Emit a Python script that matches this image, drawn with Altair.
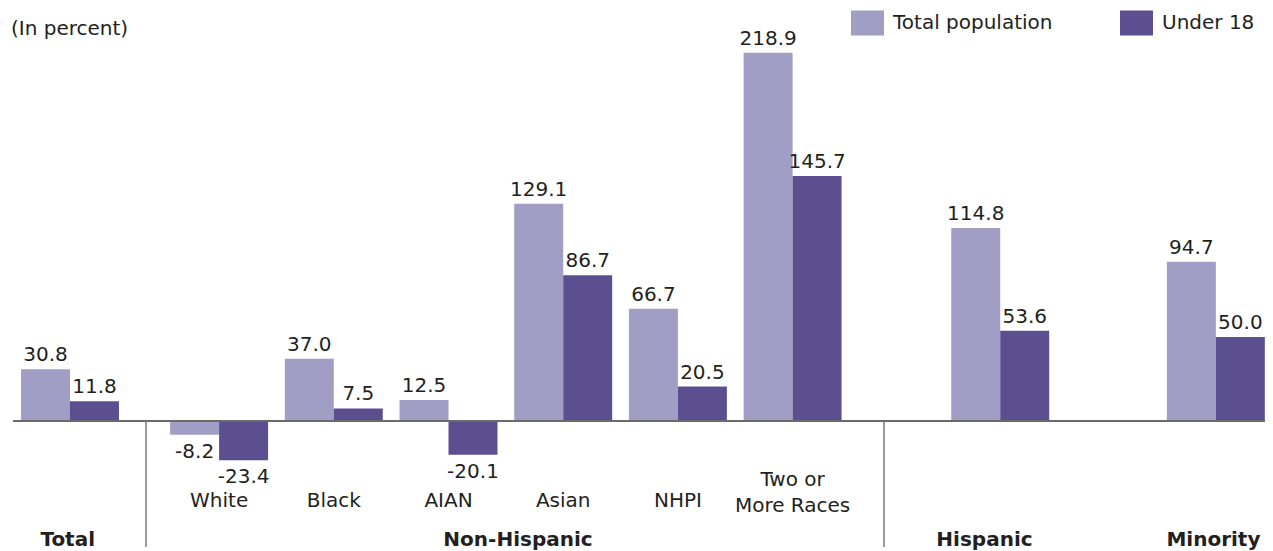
import altair as alt
import pandas as pd

# ---------------- data ----------------
categories = ["Total", "White", "Black", "AIAN", "Asian", "NHPI",
              "Two or More Races", "Hispanic", "Minority"]
total_population = [30.8, -8.2, 37.0, 12.5, 129.1, 66.7, 218.9, 114.8, 94.7]
under_18 = [11.8, -23.4, 7.5, -20.1, 86.7, 20.5, 145.7, 53.6, 50.0]
series = ["Total population", "Under 18"]
axis_labels = ["", "White", "Black", "AIAN", "Asian", "NHPI",
               "Two or\nMore Races", "", ""]
group_names = ["Total", "Non-Hispanic", "Hispanic", "Minority"]
subtitle = ["(In percent)"]

# ---------------- layout / style ----------------
series_colors = ["#A09EC4", "#5C4F8F"]
slots = [0.0, 1.3, 2.3, 3.3, 4.3, 5.3, 6.3, 8.11, 9.99]      # group centres (group-step units)
group_slots = [-0.02, 3.906, 7.973, 9.969]
separator_slots = [0.663, 7.097]
BAR_W = 0.427
W, H = 1257, 543
FONT = "DejaVu Sans"
TXT = "#231F20"

rows = []
for c, s, tv, uv in zip(categories, slots, total_population, under_18):
    rows.append(dict(category=c, series=series[0], value=tv,
                     x0=s - BAR_W, x1=s, xc=s - BAR_W / 2))
    rows.append(dict(category=c, series=series[1], value=uv,
                     x0=s, x1=s + BAR_W, xc=s + BAR_W / 2))
bars_df = pd.DataFrame(rows)

cat_df = pd.DataFrame({"x": slots, "label": axis_labels})
cat_df = cat_df[cat_df["label"] != ""]
single_df = cat_df[~cat_df["label"].str.contains("\n")]
multi_df = cat_df[cat_df["label"].str.contains("\n")]
group_df = pd.DataFrame({"x": group_slots, "label": group_names})
sep_df = pd.DataFrame({"x": separator_slots})
zero_df = pd.DataFrame({"y": [0]})
sub_df = pd.DataFrame({"label": subtitle})

xscale = alt.Scale(domain=[-0.5405, -0.5405 + W / 114.7], nice=False, zero=False)
yscale = alt.Scale(domain=[-(H - 413) / 1.682, 413 / 1.682], nice=False, zero=False)

bars = alt.Chart(bars_df).mark_bar().encode(
    x=alt.X("x0:Q", scale=xscale, axis=None),
    x2="x1:Q",
    y=alt.Y("value:Q", scale=yscale, axis=None),
    y2=alt.datum(0),
    color=alt.Color(
        "series:N",
        scale=alt.Scale(domain=series, range=series_colors),
        legend=alt.Legend(
            orient="none", legendX=843, legendY=-2, direction="horizontal",
            title=None, symbolType="M-1,-0.758H1V0.758H-1Z", symbolSize=1089,
            symbolStrokeWidth=0, symbolOpacity=1,
            labelFontSize=20, labelFont=FONT, labelColor=TXT,
            labelOffset=9, columnPadding=67, padding=0, labelLimit=400,
        ),
    ),
)

zero_rule = alt.Chart(zero_df).mark_rule(color="#6B6B6B", strokeWidth=2).encode(
    y=alt.Y("y:Q", scale=yscale), x=alt.value(5), x2=alt.value(W)
)

separators = alt.Chart(sep_df).mark_rule(color="#7A7A7A", strokeWidth=1.5).encode(
    x=alt.X("x:Q", scale=xscale), y=alt.datum(0), y2=alt.value(539)
)

label_expr = "replace(format(datum.value, '.1f'), '\u2212', '-')"

pos_labels = alt.Chart(bars_df).transform_filter("datum.value >= 0").transform_calculate(
    lbl=label_expr
).mark_text(
    font=FONT, fontSize=20, color=TXT, baseline="alphabetic", dy=-8
).encode(
    x=alt.X("xc:Q", scale=xscale),
    y=alt.Y("value:Q", scale=yscale),
    text="lbl:N",
)

neg_labels = alt.Chart(bars_df).transform_filter("datum.value < 0").transform_calculate(
    lbl=label_expr
).mark_text(
    font=FONT, fontSize=20, color=TXT, baseline="alphabetic", dy=23
).encode(
    x=alt.X("xc:Q", scale=xscale),
    y=alt.Y("value:Q", scale=yscale),
    text="lbl:N",
)

single_labels = alt.Chart(single_df).mark_text(
    font=FONT, fontSize=20, color=TXT, baseline="middle"
).encode(x=alt.X("x:Q", scale=xscale), y=alt.value(492.5), text="label:N")

multi_labels = alt.Chart(multi_df).mark_text(
    font=FONT, fontSize=20, color=TXT, baseline="middle", lineBreak="\n", lineHeight=25.5
).encode(x=alt.X("x:Q", scale=xscale), y=alt.value(472), text="label:N")

group_labels = alt.Chart(group_df).mark_text(
    font=FONT, fontSize=20, fontWeight="bold", color=TXT, baseline="alphabetic"
).encode(x=alt.X("x:Q", scale=xscale), y=alt.value(538), text="label:N")

sub_text = alt.Chart(sub_df).mark_text(
    font=FONT, fontSize=20, color=TXT, baseline="alphabetic", align="left"
).encode(x=alt.value(3), y=alt.value(27), text="label:N")

chart = alt.layer(
    bars, zero_rule, separators, pos_labels, neg_labels,
    single_labels, multi_labels, group_labels, sub_text
).properties(
    width=W, height=H, padding=0,
    autosize=alt.AutoSizeParams(type="none"),
    background="white",
).configure_view(stroke=None)

chart.save("out.html", embed_options={"renderer": "svg", "actions": False})
